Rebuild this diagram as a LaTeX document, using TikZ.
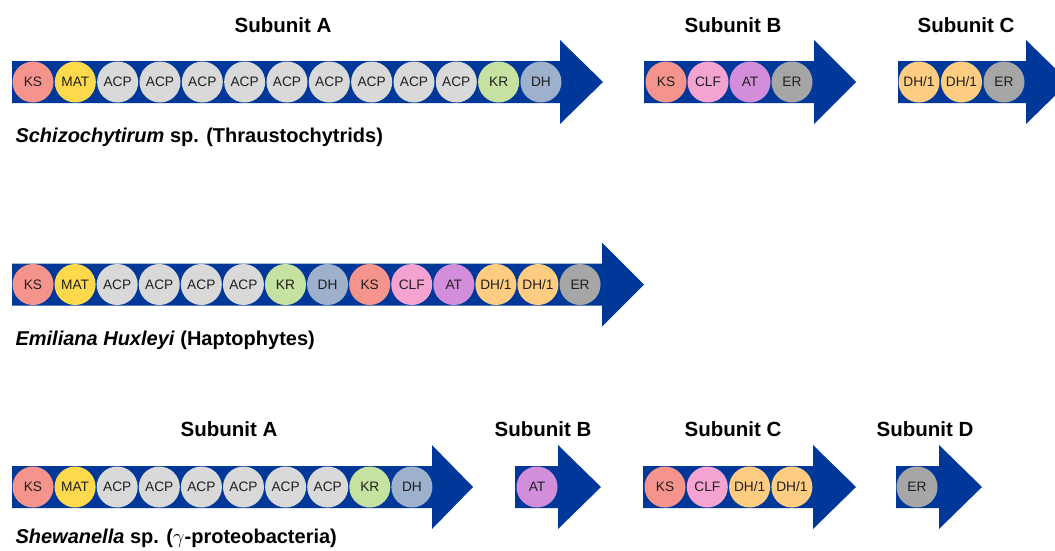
\documentclass[tikz,border=0pt]{standalone}
\usepackage{fontspec}
\setmainfont{Liberation Sans}
\definecolor{barblue}{RGB}{0,56,153}
\definecolor{ks}{RGB}{244,148,140}
\definecolor{mat}{RGB}{255,217,76}
\definecolor{acp}{RGB}{217,217,217}
\definecolor{kr}{RGB}{198,226,160}
\definecolor{dh}{RGB}{157,176,204}
\definecolor{clf}{RGB}{245,163,208}
\definecolor{at}{RGB}{211,142,219}
\definecolor{dhone}{RGB}{255,205,130}
\definecolor{er}{RGB}{166,166,166}
% gene arrow: left end, end of shaft, tip, centre line
\newcommand\genearrow[4]{%
  \fill[barblue] (#1,#4-21) -- (#2,#4-21) -- (#2,#4-42) -- (#3,#4)
    -- (#2,#4+42) -- (#2,#4+21) -- (#1,#4+21) -- cycle;}
\newcommand\dhlab{DH/1}
\begin{document}
\begin{tikzpicture}[x=1pt,y=-1pt,
  dom/.style={circle,inner sep=0pt,minimum size=41pt,
    font=\fontsize{13.7}{14}\selectfont,text=black!88},
  subtitle/.style={anchor=base,font=\fontsize{20.5}{22}\selectfont\bfseries},
  species/.style={anchor=base west,font=\fontsize{20}{22}\selectfont\bfseries}]
\useasboundingbox (0,0) rectangle (1055,550);
\clip (0,0) rectangle (1055,550);

% ---- Schizochytirum sp. ----
\node[subtitle] (t1a) at (283,32) {Subunit A};
\node[subtitle] (t1b) at (733,32) {Subunit B};
\node[subtitle] (t1c) at (966,32) {Subunit C};
\genearrow{12}{560}{603}{82}
\genearrow{644}{814}{856}{82}
\genearrow{898}{1026}{1069}{82}
\foreach \lab/\col [count=\i from 0] in
  {KS/ks,MAT/mat,ACP/acp,ACP/acp,ACP/acp,ACP/acp,ACP/acp,ACP/acp,ACP/acp,ACP/acp,ACP/acp,KR/kr,DH/dh}
  \node[dom,fill=\col] (a\i) at ({33+\i*42.33},82) {\lab};
\foreach \lab/\col [count=\i from 0] in {KS/ks,CLF/clf,AT/at,ER/er}
  \node[dom,fill=\col] (b\i) at ({666+\i*42},82) {\lab};
\foreach \lab/\col [count=\i from 0] in {\dhlab/dhone,\dhlab/dhone,ER/er}
  \node[dom,fill=\col] (c\i) at ({919+\i*42.5},82) {\lab};
\node[species] (sp1) at (12,142) {\textit{Schizochytirum} sp. (Thraustochytrids)};

% ---- Emiliana huxleyi ----
\genearrow{12}{602}{644}{284.5}
\foreach \lab/\col [count=\i from 0] in
  {KS/ks,MAT/mat,ACP/acp,ACP/acp,ACP/acp,ACP/acp,KR/kr,DH/dh,KS/ks,CLF/clf,AT/at,\dhlab/dhone,\dhlab/dhone,ER/er}
  \node[dom,fill=\col] (e\i) at ({33+\i*42.08},284.5) {\lab};
\node[species] (sp2) at (12,345) {\textit{Emiliana Huxleyi} (Haptophytes)};

% ---- Shewanella sp. ----
\node[subtitle] (t3a) at (229,436) {Subunit A};
\node[subtitle] (t3b) at (543,436) {Subunit B};
\node[subtitle] (t3c) at (733,436) {Subunit C};
\node[subtitle] (t3d) at (925,436) {Subunit D};
\genearrow{12}{432}{473}{487}
\genearrow{515}{558}{601}{487}
\genearrow{643}{813}{856}{487}
\genearrow{896}{939}{982}{487}
\foreach \lab/\col [count=\i from 0] in
  {KS/ks,MAT/mat,ACP/acp,ACP/acp,ACP/acp,ACP/acp,ACP/acp,ACP/acp,KR/kr,DH/dh}
  \node[dom,fill=\col] (s\i) at ({33+\i*42.1},487) {\lab};
\node[dom,fill=at] (sb0) at (537,487) {AT};
\foreach \lab/\col [count=\i from 0] in {KS/ks,CLF/clf,\dhlab/dhone,\dhlab/dhone}
  \node[dom,fill=\col] (sc\i) at ({665+\i*42.3},487) {\lab};
\node[dom,fill=er] (sd0) at (917,487) {ER};
\node[species] (sp3) at (12,543) {\textit{Shewanella} sp. ($\gamma$-proteobacteria)};
\end{tikzpicture}
\end{document}
